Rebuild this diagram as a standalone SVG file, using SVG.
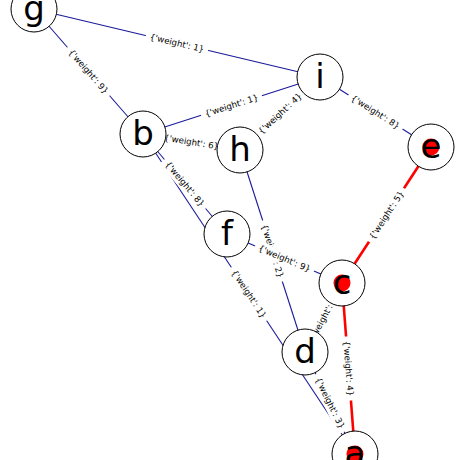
<svg xmlns="http://www.w3.org/2000/svg" width="460" height="460" viewBox="0 0 460 460">
<style>
.e{stroke:#1a1a9a;stroke-width:1.1;fill:none}
.r{stroke:#ff0000;stroke-width:2.6;fill:none}
.lb rect{fill:#ffffff;stroke:none}
.lb text{font-family:"DejaVu Sans",sans-serif;font-size:8.6px;fill:#000;text-anchor:middle;dominant-baseline:central}
.n circle.o{fill:#ffffff;stroke:#000;stroke-width:1}
.n circle.d{fill:#ff0000;stroke:none}
.n text{font-family:"DejaVu Sans",sans-serif;font-size:34px;fill:#000;text-anchor:middle}
</style>
<rect width="460" height="460" fill="#ffffff"/>
<g id="connectors">
<line class="e" x1="34" y1="9" x2="320" y2="77"/>
<line class="e" x1="34" y1="9" x2="143" y2="134"/>
<line class="e" x1="143" y1="134" x2="320" y2="77"/>
<line class="e" x1="143" y1="134" x2="240" y2="150"/>
<line class="e" x1="320" y1="77" x2="240" y2="150"/>
<line class="e" x1="320" y1="77" x2="431" y2="147"/>
<line class="r" x1="431" y1="147" x2="342" y2="283"/>
<line class="e" x1="143" y1="134" x2="227" y2="234"/>
<line class="e" x1="143" y1="134" x2="355" y2="454"/>
<line class="e" x1="240" y1="150" x2="305" y2="352"/>
<line class="e" x1="227" y1="234" x2="342" y2="283"/>
<line class="e" x1="342" y1="283" x2="305" y2="352"/>
<line class="r" x1="342" y1="283" x2="355" y2="454"/>
<line class="e" x1="305" y1="352" x2="355" y2="454"/>
</g>
<g id="edge-labels">
<g class="lb" transform="translate(177,43) rotate(13.4)"><rect x="-32" y="-6.5" width="64" height="13"/><text>{'weight': 1}</text></g>
<g class="lb" transform="translate(88.5,71.5) rotate(48.9)"><rect x="-32" y="-6.5" width="64" height="13"/><text>{'weight': 9}</text></g>
<g class="lb" transform="translate(231.5,105.5) rotate(-17.85)"><rect x="-32" y="-6.5" width="64" height="13"/><text>{'weight': 1}</text></g>
<g class="lb" transform="translate(191.5,142) rotate(9.4)"><rect x="-32" y="-6.5" width="64" height="13"/><text>{'weight': 6}</text></g>
<g class="lb" transform="translate(280,113.5) rotate(-42.4)"><rect x="-32" y="-6.5" width="64" height="13"/><text>{'weight': 4}</text></g>
<g class="lb" transform="translate(375.5,112) rotate(32.2)"><rect x="-32" y="-6.5" width="64" height="13"/><text>{'weight': 8}</text></g>
<g class="lb" transform="translate(386.5,215) rotate(-56.8)"><rect x="-32" y="-6.5" width="64" height="13"/><text>{'weight': 5}</text></g>
<g class="lb" transform="translate(185,184) rotate(50)"><rect x="-32" y="-6.5" width="64" height="13"/><text>{'weight': 8}</text></g>
<g class="lb" transform="translate(249,294) rotate(56.5)"><rect x="-32" y="-6.5" width="64" height="13"/><text>{'weight': 1}</text></g>
<g class="lb" transform="translate(272.5,251) rotate(72.2)"><rect x="-32" y="-6.5" width="64" height="13"/><text>{'weight': 2}</text></g>
<g class="lb" transform="translate(284.5,258.5) rotate(23.1)"><rect x="-32" y="-6.5" width="64" height="13"/><text>{'weight': 9}</text></g>
<g class="lb" transform="translate(323.5,317.5) rotate(-61.8)"><rect x="-32" y="-6.5" width="64" height="13"/><text>{'weight': 7}</text></g>
<g class="lb" transform="translate(348.5,368.5) rotate(85.65)"><rect x="-32" y="-6.5" width="64" height="13"/><text>{'weight': 4}</text></g>
<g class="lb" transform="translate(330,403) rotate(63.9)"><rect x="-32" y="-6.5" width="64" height="13"/><text>{'weight': 3}</text></g>
</g>
<g id="node-g" class="n"><circle class="o" cx="34" cy="9" r="23"/><text x="34" y="20">g</text></g>
<g id="node-i" class="n"><circle class="o" cx="320" cy="77" r="23"/><text x="320" y="88">i</text></g>
<g id="node-b" class="n"><circle class="o" cx="143" cy="134" r="23"/><text x="143" y="145">b</text></g>
<g id="node-h" class="n"><circle class="o" cx="240" cy="150" r="23"/><text x="240" y="161">h</text></g>
<g id="node-e" class="n"><circle class="o" cx="431" cy="147" r="23"/><circle class="d" cx="431" cy="147" r="8.5"/><text x="431" y="158">e</text></g>
<g id="node-f" class="n"><circle class="o" cx="227" cy="234" r="23"/><text x="227" y="245">f</text></g>
<g id="node-c" class="n"><circle class="o" cx="342" cy="283" r="23"/><circle class="d" cx="342" cy="283" r="8.5"/><text x="342" y="294">c</text></g>
<g id="node-d" class="n"><circle class="o" cx="305" cy="352" r="23"/><text x="305" y="363">d</text></g>
<g id="node-a" class="n"><circle class="o" cx="355" cy="454" r="23"/><circle class="d" cx="355" cy="454" r="8.5"/><text x="355" y="465">a</text></g>
</svg>
